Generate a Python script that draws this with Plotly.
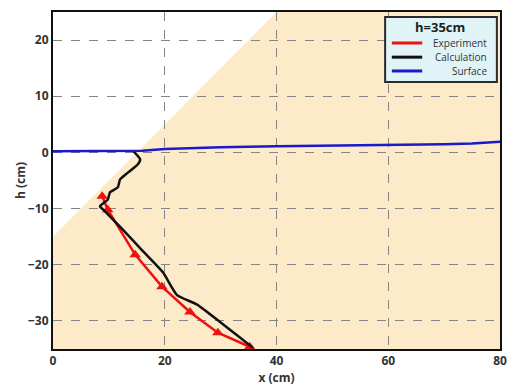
import plotly.graph_objects as go

# Shaded region (soil)
region_x = [0, 40, 80, 80, 0]
region_y = [-15, 25, 25, -35, -35]

# Surface
surface_x = [0, 5, 10, 14, 16, 20, 25, 30, 40, 50, 60, 70, 75, 80]
surface_y = [0.2, 0.25, 0.3, 0.35, 0.3, 0.6, 0.8, 0.9, 1.1, 1.2, 1.3, 1.45, 1.6, 1.9]

# Calculation
calc_x = [14.3, 15.6, 15.2, 13.4, 12.0, 11.6, 10.2, 9.8, 8.4, 9.0, 12.5, 16.0, 19.7, 22.2, 25.8, 29.9, 33.0, 35.8]
calc_y = [0.3, -1.25, -2.1, -3.6, -4.8, -6.2, -7.1, -8.4, -9.6, -10.2, -13.75, -17.5, -21.4, -25.4, -27.1, -30.2, -32.6, -34.8]

# Experiment
exp_x = [8.8, 9.8, 14.7, 19.5, 24.5, 29.5, 35.2]
exp_y = [-7.8, -10.2, -18.2, -23.9, -28.4, -32.1, -34.6]

x_ticks = [0, 20, 40, 60, 80]
y_ticks = [-30, -20, -10, 0, 10, 20]

legend_title = "h=35cm"
series_names = ["Experiment", "Calculation", "Surface"]
series_colors = ["#ee1111", "#111111", "#1a1acc"]

fig = go.Figure()
region_path = "M " + " L ".join(f"{x},{y}" for x, y in zip(region_x, region_y)) + " Z"
fig.add_shape(type="path", path=region_path, xref="x", yref="y",
              fillcolor="#fdeac8", line=dict(width=0), layer="below")

fig.add_trace(go.Scatter(x=exp_x, y=exp_y, mode="lines+markers", name=series_names[0],
                         line=dict(color=series_colors[0], width=2.5),
                         marker=dict(symbol="triangle-up", size=10, color=series_colors[0])))
fig.add_trace(go.Scatter(x=calc_x, y=calc_y, mode="lines", name=series_names[1],
                         line=dict(color=series_colors[1], width=2.5, shape="spline", smoothing=0.5)))
fig.add_trace(go.Scatter(x=surface_x, y=surface_y, mode="lines", name=series_names[2],
                         line=dict(color=series_colors[2], width=2.5)))

# Custom legend box (drawn in the plot's domain coordinates)
fig.add_shape(type="rect", xref="x domain", yref="y domain",
              x0=0.743, x1=0.993, y0=0.792, y1=0.985,
              fillcolor="#e0f4f8", line=dict(color="#2a2a2a", width=2), layer="above")
fig.add_annotation(xref="x domain", yref="y domain", x=0.866, y=0.955,
                   xanchor="center", yanchor="middle",
                   text="<b>" + legend_title + "</b>", showarrow=False,
                   font=dict(family="Open Sans", size=13, color="#222222"))
row_y = [0.908, 0.866, 0.825]
for name, color, ry in zip(series_names, series_colors, row_y):
    fig.add_shape(type="line", xref="x domain", yref="y domain",
                  x0=0.758, x1=0.826, y0=ry, y1=ry,
                  line=dict(color=color, width=3), layer="above")
    fig.add_annotation(xref="x domain", yref="y domain", x=0.975, y=ry,
                       xanchor="right", yanchor="middle", text=name, showarrow=False,
                       font=dict(family="Open Sans", size=10, color="#333333"))

axis_font = dict(family="Open Sans", size=12, color="#333333", weight="bold")
fig.update_layout(
    width=508, height=389,
    margin=dict(l=53, r=8, t=12, b=40),
    paper_bgcolor="white", plot_bgcolor="white",
    font=dict(family="Open Sans"),
    showlegend=False,
)
fig.update_xaxes(range=[0, 80], tickvals=x_ticks, showgrid=True, gridcolor="#858585",
                 griddash="dash", gridwidth=1.3, zeroline=False, automargin=False,
                 showline=True, linecolor="#111111", linewidth=2, mirror=True,
                 tickfont=axis_font, ticks="",
                 title=dict(text="x (cm)", font=axis_font, standoff=4))
fig.update_yaxes(range=[-35, 25], tickvals=y_ticks, showgrid=True, gridcolor="#858585",
                 griddash="dash", gridwidth=1.3, zeroline=False, automargin=False,
                 showline=True, linecolor="#111111", linewidth=2, mirror=True,
                 tickfont=axis_font, ticks="",
                 title=dict(text="h (cm)", font=axis_font, standoff=0))

fig.write_html("out.html")
